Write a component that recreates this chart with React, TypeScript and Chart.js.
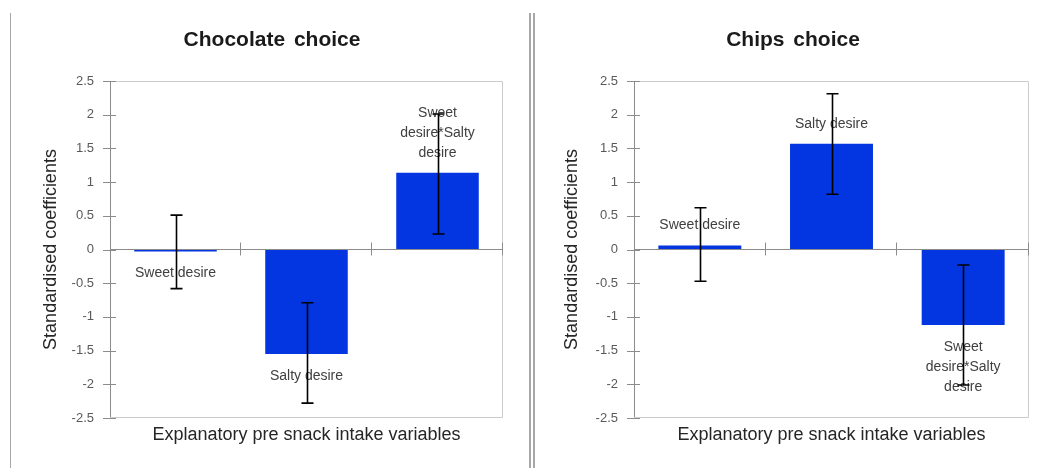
import React, { useEffect, useRef } from "react";
import { Chart, registerables } from "chart.js";
Chart.register(...registerables);

const categories = ["Sweet desire", "Salty desire", "Sweet desire*Salty desire"];
const categoryLabelLines = [["Sweet desire"], ["Salty desire"], ["Sweet", "desire*Salty", "desire"]];

const chocolateValues = [-0.03, -1.55, 1.14];
const chocolateErrLow = [-0.58, -2.28, 0.23];
const chocolateErrHigh = [0.51, -0.79, 2.01];

const chipsValues = [0.06, 1.57, -1.12];
const chipsErrLow = [-0.47, 0.82, -2.01];
const chipsErrHigh = [0.62, 2.31, -0.23];

const yTicks = [-2.5, -2, -1.5, -1, -0.5, 0, 0.5, 1, 1.5, 2, 2.5];
const yTickLabels = ["-2.5", "-2", "-1.5", "-1", "-0.5", "0", "0.5", "1", "1.5", "2", "2.5"];

const titles = ["Chocolate choice", "Chips choice"];
const yTitle = "Standardised coefficients";
const xTitle = "Explanatory pre snack intake variables";

const FONT = "'Liberation Sans', Arial, sans-serif";
const BAR = "#0336E0";
const AXIS = "#8c8c8c";
const BOX = "#cccccc";

type Cfg = {
  title: string;
  values: number[];
  errLow: number[];
  errHigh: number[];
  left: number;
  axisX: number;
  padRight: number;
};

const charts: Cfg[] = [
  { title: titles[0], values: chocolateValues, errLow: chocolateErrLow, errHigh: chocolateErrHigh, left: 0, axisX: 110, padRight: 18 },
  { title: titles[1], values: chipsValues, errLow: chipsErrLow, errHigh: chipsErrHigh, left: 521, axisX: 113, padRight: 13 },
];

function decor(cfg: Cfg) {
  return {
    id: "decor",
    beforeDatasetsDraw(chart: any) {
      const { ctx, chartArea: a } = chart;
      ctx.save();
      ctx.strokeStyle = BOX;
      ctx.lineWidth = 1;
      ctx.beginPath();
      ctx.moveTo(a.left, a.top + 0.5);
      ctx.lineTo(a.right - 0.5, a.top + 0.5);
      ctx.lineTo(a.right - 0.5, a.bottom - 0.5);
      ctx.lineTo(a.left, a.bottom - 0.5);
      ctx.stroke();
      ctx.restore();
    },
    afterDatasetsDraw(chart: any) {
      const { ctx, chartArea: a, scales } = chart;
      const x = scales.x;
      const y = scales.y;
      const y0 = y.getPixelForValue(0);
      ctx.save();
      ctx.strokeStyle = AXIS;
      ctx.lineWidth = 1;
      ctx.beginPath();
      y.ticks.forEach((t: any) => {
        const py = Math.round(y.getPixelForValue(t.value)) + 0.5;
        ctx.moveTo(a.left - 7, py);
        ctx.lineTo(a.left + 6, py);
      });
      for (let i = 0; i < categories.length; i++) {
        const px = Math.round(x.getPixelForValue(i + 0.5)) - 0.5;
        ctx.moveTo(px, y0 - 7);
        ctx.lineTo(px, y0 + 6);
      }
      ctx.stroke();

      const meta = chart.getDatasetMeta(0);
      ctx.font = `14px ${FONT}`;
      ctx.fillStyle = "#404040";
      ctx.textAlign = "center";
      ctx.textBaseline = "middle";
      meta.data.forEach((el: any, i: number) => {
        const lines = categoryLabelLines[i];
        const n = lines.length;
        const up = cfg.values[i] >= 0;
        lines.forEach((ln, k) => {
          const ly = up ? el.y - 20 - 20 * (n - 1 - k) : el.y + 22 + 20 * k;
          ctx.fillText(ln, el.x, ly);
        });
      });

      ctx.strokeStyle = "#000000";
      ctx.lineWidth = 1.6;
      ctx.beginPath();
      meta.data.forEach((el: any, i: number) => {
        const cx = Math.round(el.x) + 0.5;
        const yl = y.getPixelForValue(cfg.errLow[i]);
        const yh = y.getPixelForValue(cfg.errHigh[i]);
        ctx.moveTo(cx, yl);
        ctx.lineTo(cx, yh);
        ctx.moveTo(cx - 6, yl);
        ctx.lineTo(cx + 6, yl);
        ctx.moveTo(cx - 6, yh);
        ctx.lineTo(cx + 6, yh);
      });
      ctx.stroke();
      ctx.restore();
    },
    afterDraw(chart: any) {
      const { ctx, chartArea: a } = chart;
      ctx.save();
      ctx.fillStyle = "#1a1a1a";
      ctx.textAlign = "center";
      ctx.textBaseline = "middle";
      ctx.font = `bold 21px ${FONT}`;
      try { (ctx as any).wordSpacing = "3px"; } catch (e) {}
      ctx.fillText(cfg.title, 272, 40);
      try { (ctx as any).wordSpacing = "0px"; } catch (e) {}
      ctx.fillStyle = "#262626";
      ctx.font = `18px ${FONT}`;
      ctx.fillText(xTitle, (a.left + a.right) / 2, 435);
      ctx.translate(51, (a.top + a.bottom) / 2);
      ctx.rotate(-Math.PI / 2);
      ctx.fillText(yTitle, 0, 0);
      ctx.restore();
    },
  };
}

function BarChart({ cfg }: { cfg: Cfg }) {
  const ref = useRef<HTMLCanvasElement>(null);
  useEffect(() => {
    const chart = new Chart(ref.current as HTMLCanvasElement, {
      type: "bar",
      data: {
        labels: categories,
        datasets: [
          {
            data: cfg.values,
            backgroundColor: BAR,
            borderWidth: 0,
            barPercentage: 0.63,
            categoryPercentage: 1,
          },
        ],
      },
      options: {
        responsive: false,
        maintainAspectRatio: false,
        animation: false,
        layout: { padding: { left: 0, top: 81, right: cfg.padRight, bottom: 50 } },
        plugins: {
          legend: { display: false },
          tooltip: { enabled: false },
          title: { display: false },
        },
        scales: {
          x: { display: false },
          y: {
            min: -2.5,
            max: 2.5,
            afterBuildTicks: (s: any) => {
              s.ticks = yTicks.map((v) => ({ value: v }));
            },
            afterFit: (s: any) => {
              s.width = cfg.axisX;
            },
            ticks: {
              callback: (_v: any, i: number) => yTickLabels[i],
              font: { family: FONT, size: 13 },
              color: "#595959",
              padding: 16,
            },
            grid: {
              drawTicks: false,
              color: (c: any) => (c.tick && c.tick.value === 0 ? AXIS : "rgba(0,0,0,0)"),
              lineWidth: 1,
            },
            border: { display: true, color: AXIS, width: 1 },
          },
        },
      },
      plugins: [decor(cfg)],
    } as any);
    return () => chart.destroy();
  }, []);
  return (
    <canvas
      ref={ref}
      width={521}
      height={468}
      style={{ position: "absolute", left: cfg.left, top: 0, width: 521, height: 468 }}
    />
  );
}

export default function App() {
  return (
    <div style={{ position: "fixed", left: 0, top: 0, width: 1042, height: 468, background: "#ffffff", overflow: "hidden" }}>
      {charts.map((c, i) => (
        <BarChart key={i} cfg={c} />
      ))}
      <div style={{ position: "absolute", left: 10, top: 13, width: 1, height: 455, background: "#a6a6a6" }} />
      <div style={{ position: "absolute", left: 529, top: 13, width: 2, height: 455, background: "#a8a8a8" }} />
      <div style={{ position: "absolute", left: 533, top: 13, width: 2, height: 455, background: "#a8a8a8" }} />
    </div>
  );
}
